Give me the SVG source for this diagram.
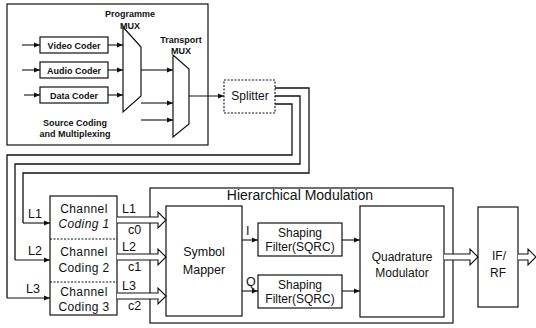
<svg xmlns="http://www.w3.org/2000/svg" width="536" height="328" viewBox="0 0 536 328">
<defs>
<marker id="ah" viewBox="0 0 10 10" refX="10" refY="5" markerWidth="6" markerHeight="6" orient="auto" markerUnits="userSpaceOnUse"><path d="M0,1 L10,5 L0,9 Z" fill="#111"/></marker>
<style>
.b{fill:#fff;stroke:#111;stroke-width:1.2}
.d{fill:#fff;stroke:#111;stroke-width:1.1;stroke-dasharray:2,1.5}
.w{fill:none;stroke:#111;stroke-width:1.3}
.a{fill:none;stroke:#111;stroke-width:1.1;marker-end:url(#ah)}
.h{fill:#fff;stroke:#111;stroke-width:1.1}
.s{font-family:"Liberation Sans",Arial,sans-serif;font-size:9px;font-weight:bold;fill:#111;text-anchor:middle}
.t{font-family:"Liberation Sans",Arial,sans-serif;font-size:12px;fill:#111;text-anchor:middle}
.l{font-family:"Liberation Sans",Arial,sans-serif;font-size:12.5px;fill:#111}
</style>
</defs>
<g id="source-box"><rect class="b" x="7" y="4" width="201" height="141"/>
<text class="s" x="75" y="126" font-size="8.5">Source Coding</text><text class="s" x="75" y="137" font-size="8.5">and Multiplexing</text></g>
<g id="video-coder"><rect class="b" x="40" y="37" width="68" height="16"/><text class="s" x="74" y="48.5">Video Coder</text></g>
<g id="audio-coder"><rect class="b" x="40" y="62" width="68" height="16"/><text class="s" x="74" y="73.5">Audio Coder</text></g>
<g id="data-coder"><rect class="b" x="40" y="87" width="68" height="16"/><text class="s" x="74" y="98.5">Data Coder</text></g>
<g id="programme-mux"><path class="b" d="M123,27 L141,47 L141,96 L123,112 Z"/>
<text class="s" x="130" y="17" font-size="8.5">Programme</text><text class="s" x="130" y="29" font-size="8.5">MUX</text></g>
<g id="transport-mux"><path class="b" d="M173,55 L189,69 L189,124 L173,137 Z"/>
<text class="s" x="181" y="43" font-size="8.5">Transport</text><text class="s" x="181" y="54" font-size="8.5">MUX</text></g>
<g id="splitter"><rect class="d" x="224" y="80" width="51" height="33"/><text class="t" x="250" y="100" font-size="11">Splitter</text></g>
<g id="channel-coding"><rect class="b" x="50" y="196" width="67" height="119"/>
<line x1="50" y1="239" x2="117" y2="239" stroke="#111" stroke-width="1" stroke-dasharray="2,1.5"/>
<line x1="50" y1="282" x2="117" y2="282" stroke="#111" stroke-width="1" stroke-dasharray="2,1.5"/>
<g letter-spacing="0.4">
<text class="t" x="84" y="213">Channel</text><text class="t" x="84" y="228" font-style="italic">Coding 1</text>
<text class="t" x="84" y="256">Channel</text><text class="t" x="84" y="272">Coding 2</text>
<text class="t" x="84" y="296">Channel</text><text class="t" x="84" y="311">Coding 3</text></g></g>
<g id="hierarchical-modulation"><rect class="b" x="150" y="188" width="303" height="135"/>
<text x="300" y="200" font-family="'Liberation Sans',Arial,sans-serif" font-size="14" fill="#111" text-anchor="middle">Hierarchical Modulation</text></g>
<g id="symbol-mapper"><rect class="b" x="166" y="206" width="76" height="110"/><text class="l" x="204" y="256" text-anchor="middle" font-size="14.5">Symbol</text><text class="l" x="204" y="274" text-anchor="middle" font-size="14.5">Mapper</text></g>
<g id="shaping-filter-i"><rect class="b" x="258" y="223" width="84" height="33"/><text class="t" x="300" y="237">Shaping</text><text class="t" x="300" y="251">Filter(SQRC)</text></g>
<g id="shaping-filter-q"><rect class="b" x="258" y="275" width="84" height="33"/><text class="t" x="300" y="289">Shaping</text><text class="t" x="300" y="303">Filter(SQRC)</text></g>
<g id="quadrature-modulator"><rect class="b" x="360" y="206" width="84" height="111"/><text class="t" x="402" y="261" font-size="14">Quadrature</text><text class="t" x="402" y="277" font-size="14">Modulator</text></g>
<g id="if-rf"><rect class="b" x="478" y="207" width="40" height="100"/><text class="t" x="499" y="260" font-size="14">IF/</text><text class="t" x="498" y="277" font-size="14">RF</text></g>
<g id="connectors">
<line class="a" x1="22" y1="45" x2="40" y2="45"/>
<line class="a" x1="22" y1="70" x2="40" y2="70"/>
<line class="a" x1="24" y1="95" x2="40" y2="95"/>
<line class="a" x1="108" y1="45" x2="123" y2="45"/>
<line class="a" x1="108" y1="70" x2="123" y2="70"/>
<line class="a" x1="108" y1="95" x2="123" y2="95"/>
<line class="a" x1="141" y1="70" x2="173" y2="70"/>
<line class="a" x1="141" y1="103" x2="173" y2="103"/>
<line class="a" x1="141" y1="120" x2="173" y2="120"/>
<line class="a" x1="189" y1="96" x2="224" y2="96"/>
<path class="w" d="M275,88 H309 V173 H23 V223"/>
<path class="w" d="M275,96 H300 V164 H15 V260"/>
<path class="w" d="M275,104 H292 V155 H7 V298"/>
<line class="a" x1="23" y1="223" x2="50" y2="223"/>
<line class="a" x1="15" y1="260" x2="50" y2="260"/>
<line class="a" x1="7" y1="298" x2="50" y2="298"/>
<path class="h" d="M117,217 H158 V212 L166,220 L158,228 V223 H117"/>
<path class="h" d="M117,254 H158 V249 L166,257 L158,265 V260 H117"/>
<path class="h" d="M117,293 H158 V288 L166,296 L158,304 V299 H117"/>
<line class="a" x1="242" y1="240" x2="258" y2="240"/>
<line class="a" x1="242" y1="291" x2="258" y2="291"/>
<line class="a" x1="342" y1="240" x2="360" y2="240"/>
<line class="a" x1="342" y1="291" x2="360" y2="291"/>
<path class="h" d="M444,254 H470 V249 L478,257 L470,265 V260 H444"/>
<path class="h" d="M518,254 H528 V249 L536,257 L528,265 V260 H518"/>
</g>
<g id="labels">
<text class="l" x="28" y="218">L1</text>
<text class="l" x="28" y="255">L2</text>
<text class="l" x="26" y="293">L3</text>
<text class="l" x="122" y="213">L1</text>
<text class="l" x="128" y="234">c0</text>
<text class="l" x="122" y="251">L2</text>
<text class="l" x="128" y="271">c1</text>
<text class="l" x="122" y="290">L3</text>
<text class="l" x="128" y="310">c2</text>
<text class="l" x="246" y="235" font-size="11">I</text>
<text class="l" x="246" y="286" font-size="11">Q</text>
</g>
</svg>
